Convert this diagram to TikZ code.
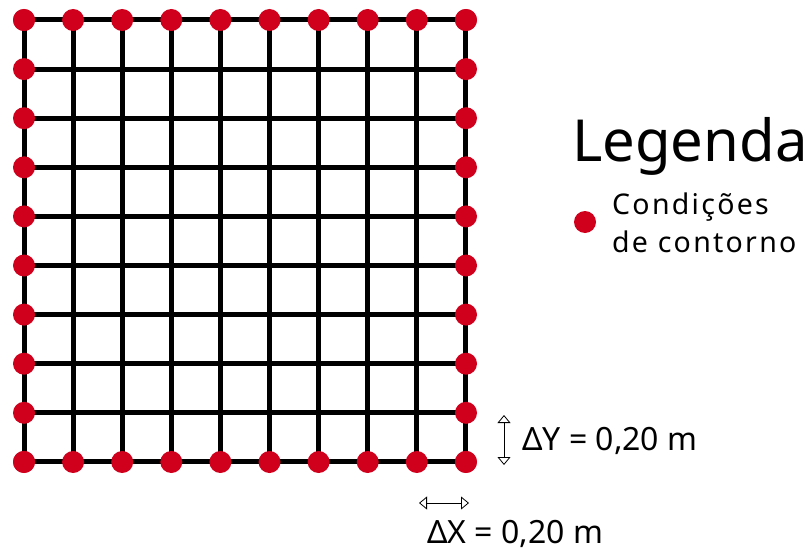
\documentclass[tikz,border=0pt]{standalone}
\usepackage{fontspec}
\setmainfont{Noto Sans}
\usetikzlibrary{positioning, arrows.meta}
\definecolor{bcred}{RGB}{208,0,28}

\begin{document}
\begin{tikzpicture}[
  x=1pt, y=-1pt,
  gridline/.style={line width=5pt, black, line cap=rect},
  bcdot/.style={circle, fill=bcred, inner sep=0pt, minimum size=22pt},
  dimarr/.style={{Triangle[open, length=8pt, width=13pt]}-{Triangle[open, length=8pt, width=13pt]}, line width=0.8pt},
  lbl/.style={anchor=base west, inner sep=0pt, font=\fontsize{32}{36}\selectfont},
  legtxt/.style={anchor=base west, inner sep=0pt, font=\fontsize{28.5}{32}\selectfont\addfontfeature{LetterSpace=8}}
]
\useasboundingbox (0,0) rectangle (808,551);

% malha
\foreach \i in {0,...,9} {
  \draw[gridline] (24+49.1*\i, 20) -- (24+49.1*\i, 462);
  \draw[gridline] (24, 20+49.1*\i) -- (466, 20+49.1*\i);
}

% condicoes de contorno
\foreach \i in {0,...,9} {
  \node[bcdot] (top\i) at (24+49.1*\i, 20) {};
  \node[bcdot] (bot\i) at (24+49.1*\i, 462) {};
  \node[bcdot] (lft\i) at (24, 20+49.1*\i) {};
  \node[bcdot] (rgt\i) at (466, 20+49.1*\i) {};
}

% legenda
\node[anchor=base west, inner sep=0pt, font=\fontsize{58}{64}\selectfont] (legenda) at (572,161) {Legenda};
\node[bcdot] (legdot) at (585,222) {};
\node[legtxt] (leg1) at (612,214) {Condições};
\node[legtxt] (leg2) at (612,252) {de contorno};

% espacamento
\coordinate (dyA) at (504,415);
\coordinate (dyB) at (504,465);
\coordinate (dxA) at (419,503);
\coordinate (dxB) at (469,503);
\draw[dimarr] (dyA) -- (dyB);
\draw[dimarr] (dxA) -- (dxB);
\node[lbl] (dy) at (522,450) {ΔY = 0,20 m};
\node[lbl] (dx) at (427,543) {ΔX = 0,20 m};
\end{tikzpicture}
\end{document}
